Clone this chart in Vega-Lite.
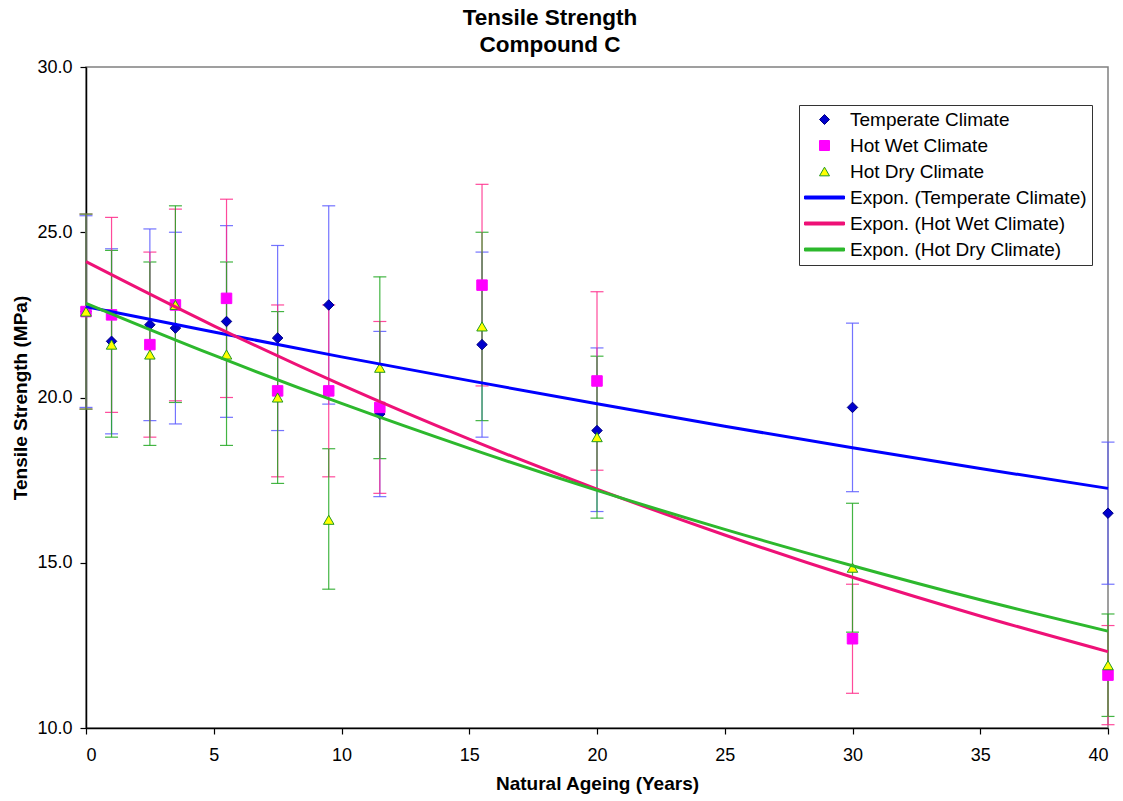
{
  "$schema": "https://vega.github.io/schema/vega-lite/v6.json",
  "width": 1022,
  "height": 661,
  "autosize": {"type": "none"},
  "padding": {"left": 86, "top": 67, "right": 15, "bottom": 73},
  "background": "#ffffff",
  "title": {
    "text": ["Tensile Strength", "Compound C"],
    "font": "Liberation Sans",
    "fontSize": 22.5,
    "fontWeight": "bold",
    "lineHeight": 27,
    "anchor": "middle",
    "dx": -47,
    "offset": 2,
    "color": "#000000"
  },
  "config": {
    "view": {"stroke": "#808080", "strokeWidth": 1.5},
    "axis": {
      "labelFont": "Liberation Sans",
      "titleFont": "Liberation Sans",
      "labelFontSize": 18,
      "titleFontSize": 19,
      "titleFontWeight": "bold",
      "labelColor": "#000000",
      "titleColor": "#000000",
      "domainColor": "#000000",
      "tickColor": "#000000",
      "domainWidth": 1.5,
      "tickWidth": 1.2,
      "tickSize": 6,
      "grid": false
    }
  },
  "datasets": {
    "pts": [
      {"x": 0, "series": "Temperate Climate", "y": 22.6, "lo": 19.7, "hi": 25.5},
      {"x": 1, "series": "Temperate Climate", "y": 21.7, "lo": 18.9, "hi": 24.5},
      {"x": 2.5, "series": "Temperate Climate", "y": 22.2, "lo": 19.3, "hi": 25.1},
      {"x": 3.5, "series": "Temperate Climate", "y": 22.1, "lo": 19.2, "hi": 25.0},
      {"x": 5.5, "series": "Temperate Climate", "y": 22.3, "lo": 19.4, "hi": 25.2},
      {"x": 7.5, "series": "Temperate Climate", "y": 21.8, "lo": 19.0, "hi": 24.6},
      {"x": 9.5, "series": "Temperate Climate", "y": 22.8, "lo": 19.8, "hi": 25.8},
      {"x": 11.5, "series": "Temperate Climate", "y": 19.5, "lo": 17.0, "hi": 22.0},
      {"x": 15.5, "series": "Temperate Climate", "y": 21.6, "lo": 18.8, "hi": 24.4},
      {"x": 20, "series": "Temperate Climate", "y": 19.0, "lo": 16.55, "hi": 21.5},
      {"x": 30, "series": "Temperate Climate", "y": 19.7, "lo": 17.15, "hi": 22.25},
      {"x": 40, "series": "Temperate Climate", "y": 16.5, "lo": 14.35, "hi": 18.65},
      {"x": 0, "series": "Hot Wet Climate", "y": 22.6, "lo": 19.65, "hi": 25.55},
      {"x": 1, "series": "Hot Wet Climate", "y": 22.5, "lo": 19.55, "hi": 25.45},
      {"x": 2.5, "series": "Hot Wet Climate", "y": 21.6, "lo": 18.8, "hi": 24.4},
      {"x": 3.5, "series": "Hot Wet Climate", "y": 22.8, "lo": 19.9, "hi": 25.7},
      {"x": 5.5, "series": "Hot Wet Climate", "y": 23.0, "lo": 20.0, "hi": 26.0},
      {"x": 7.5, "series": "Hot Wet Climate", "y": 20.2, "lo": 17.6, "hi": 22.8},
      {"x": 9.5, "series": "Hot Wet Climate", "y": 20.2, "lo": 17.6, "hi": 22.8},
      {"x": 11.5, "series": "Hot Wet Climate", "y": 19.7, "lo": 17.1, "hi": 22.3},
      {"x": 15.5, "series": "Hot Wet Climate", "y": 23.4, "lo": 20.35, "hi": 26.45},
      {"x": 20, "series": "Hot Wet Climate", "y": 20.5, "lo": 17.8, "hi": 23.2},
      {"x": 30, "series": "Hot Wet Climate", "y": 12.7, "lo": 11.05, "hi": 14.35},
      {"x": 40, "series": "Hot Wet Climate", "y": 11.6, "lo": 10.1, "hi": 13.1},
      {"x": 0, "series": "Hot Dry Climate", "y": 22.6, "lo": 19.65, "hi": 25.55},
      {"x": 1, "series": "Hot Dry Climate", "y": 21.6, "lo": 18.8, "hi": 24.45},
      {"x": 2.5, "series": "Hot Dry Climate", "y": 21.3, "lo": 18.55, "hi": 24.1},
      {"x": 3.5, "series": "Hot Dry Climate", "y": 22.8, "lo": 19.85, "hi": 25.8},
      {"x": 5.5, "series": "Hot Dry Climate", "y": 21.3, "lo": 18.55, "hi": 24.1},
      {"x": 7.5, "series": "Hot Dry Climate", "y": 20.0, "lo": 17.4, "hi": 22.6},
      {"x": 9.5, "series": "Hot Dry Climate", "y": 16.3, "lo": 14.2, "hi": 18.45},
      {"x": 11.5, "series": "Hot Dry Climate", "y": 20.9, "lo": 18.15, "hi": 23.65},
      {"x": 15.5, "series": "Hot Dry Climate", "y": 22.15, "lo": 19.3, "hi": 25.0},
      {"x": 20, "series": "Hot Dry Climate", "y": 18.8, "lo": 16.35, "hi": 21.25},
      {"x": 30, "series": "Hot Dry Climate", "y": 14.85, "lo": 12.9, "hi": 16.8},
      {"x": 40, "series": "Hot Dry Climate", "y": 11.9, "lo": 10.35, "hi": 13.45}
    ],
    "trend": [
      {"x": 0, "series": "Expon. (Temperate Climate)", "y": 22.75},
      {"x": 5, "series": "Expon. (Temperate Climate)", "y": 21.98},
      {"x": 10, "series": "Expon. (Temperate Climate)", "y": 21.23},
      {"x": 15, "series": "Expon. (Temperate Climate)", "y": 20.51},
      {"x": 20, "series": "Expon. (Temperate Climate)", "y": 19.81},
      {"x": 25, "series": "Expon. (Temperate Climate)", "y": 19.13},
      {"x": 30, "series": "Expon. (Temperate Climate)", "y": 18.48},
      {"x": 35, "series": "Expon. (Temperate Climate)", "y": 17.85},
      {"x": 40, "series": "Expon. (Temperate Climate)", "y": 17.25},
      {"x": 0, "series": "Expon. (Hot Wet Climate)", "y": 24.11},
      {"x": 5, "series": "Expon. (Hot Wet Climate)", "y": 22.17},
      {"x": 10, "series": "Expon. (Hot Wet Climate)", "y": 20.38},
      {"x": 15, "series": "Expon. (Hot Wet Climate)", "y": 18.74},
      {"x": 20, "series": "Expon. (Hot Wet Climate)", "y": 17.23},
      {"x": 25, "series": "Expon. (Hot Wet Climate)", "y": 15.84},
      {"x": 30, "series": "Expon. (Hot Wet Climate)", "y": 14.56},
      {"x": 35, "series": "Expon. (Hot Wet Climate)", "y": 13.39},
      {"x": 40, "series": "Expon. (Hot Wet Climate)", "y": 12.31},
      {"x": 0, "series": "Expon. (Hot Dry Climate)", "y": 22.85},
      {"x": 5, "series": "Expon. (Hot Dry Climate)", "y": 21.28},
      {"x": 10, "series": "Expon. (Hot Dry Climate)", "y": 19.82},
      {"x": 15, "series": "Expon. (Hot Dry Climate)", "y": 18.46},
      {"x": 20, "series": "Expon. (Hot Dry Climate)", "y": 17.19},
      {"x": 25, "series": "Expon. (Hot Dry Climate)", "y": 16.01},
      {"x": 30, "series": "Expon. (Hot Dry Climate)", "y": 14.91},
      {"x": 35, "series": "Expon. (Hot Dry Climate)", "y": 13.88},
      {"x": 40, "series": "Expon. (Hot Dry Climate)", "y": 12.93}
    ]
  },
  "encoding": {
    "x": {
      "field": "x",
      "type": "quantitative",
      "scale": {"domain": [0, 40], "nice": false, "zero": false},
      "axis": {
        "values": [0, 5, 10, 15, 20, 25, 30, 35, 40],
        "title": "Natural Ageing (Years)",
        "labelPadding": 12,
        "titlePadding": 10
      }
    }
  },
  "layer": [
    {
      "data": {"name": "pts"},
      "mark": {"type": "errorbar", "ticks": {"size": 13, "thickness": 1.2}, "thickness": 1.2, "opacity": 0.85},
      "encoding": {
        "y": {
          "field": "lo",
          "type": "quantitative",
          "scale": {"domain": [10, 30], "nice": false, "zero": false},
          "axis": {
            "values": [10, 15, 20, 25, 30],
            "format": ".1f",
            "title": "Tensile Strength (MPa)",
            "labelPadding": 8,
            "titlePadding": 6
          }
        },
        "y2": {"field": "hi"},
        "color": {
          "field": "series",
          "type": "nominal",
          "scale": {
            "domain": ["Temperate Climate", "Hot Wet Climate", "Hot Dry Climate"],
            "range": ["#5a5aff", "#ff2a8a", "#22a822"]
          },
          "legend": null
        }
      }
    },
    {
      "data": {"name": "pts"},
      "mark": {"type": "point", "filled": true, "size": 110, "strokeWidth": 1, "opacity": 1},
      "encoding": {
        "y": {"field": "y", "type": "quantitative"},
        "fill": {
          "field": "series",
          "type": "nominal",
          "scale": {
            "domain": ["Temperate Climate", "Hot Wet Climate", "Hot Dry Climate", "Expon. (Temperate Climate)", "Expon. (Hot Wet Climate)", "Expon. (Hot Dry Climate)"],
            "range": ["#0000cc", "#ff00ff", "#ffff00", "#0000ff", "#ee1177", "#2db82d"]
          },
          "legend": {
            "title": null,
            "orient": "none",
            "legendX": 713,
            "legendY": 38,
            "padding": 5,
            "strokeColor": "#333333",
            "fillColor": "#ffffff",
            "labelFont": "Liberation Sans",
            "labelFontSize": 19,
            "labelColor": "#000000",
            "labelOffset": 16,
            "symbolOffset": 11,
            "symbolSize": 100,
            "symbolStrokeWidth": 1,
            "rowPadding": 6,
            "labelLimit": 400
          }
        },
        "stroke": {
          "field": "series",
          "type": "nominal",
          "scale": {
            "domain": ["Temperate Climate", "Hot Wet Climate", "Hot Dry Climate", "Expon. (Temperate Climate)", "Expon. (Hot Wet Climate)", "Expon. (Hot Dry Climate)"],
            "range": ["#000080", "#ff00ff", "#229922", "#0000ff", "#ee1177", "#2db82d"]
          },
          "legend": {
            "title": null,
            "orient": "none",
            "legendX": 713,
            "legendY": 38,
            "padding": 5,
            "strokeColor": "#333333",
            "fillColor": "#ffffff",
            "labelFont": "Liberation Sans",
            "labelFontSize": 19,
            "labelColor": "#000000",
            "labelOffset": 16,
            "symbolOffset": 11,
            "symbolSize": 100,
            "symbolStrokeWidth": 1,
            "rowPadding": 6,
            "labelLimit": 400
          }
        },
        "shape": {
          "field": "series",
          "type": "nominal",
          "scale": {
            "domain": ["Temperate Climate", "Hot Wet Climate", "Hot Dry Climate", "Expon. (Temperate Climate)", "Expon. (Hot Wet Climate)", "Expon. (Hot Dry Climate)"],
            "range": ["diamond", "square", "triangle-up", "M-4,-0.3H4V0.3H-4Z", "M-4,-0.3H4V0.3H-4Z", "M-4,-0.3H4V0.3H-4Z"]
          },
          "legend": {
            "title": null,
            "orient": "none",
            "legendX": 713,
            "legendY": 38,
            "padding": 5,
            "strokeColor": "#333333",
            "fillColor": "#ffffff",
            "labelFont": "Liberation Sans",
            "labelFontSize": 19,
            "labelColor": "#000000",
            "labelOffset": 16,
            "symbolOffset": 11,
            "symbolSize": 100,
            "symbolStrokeWidth": 1,
            "rowPadding": 6,
            "labelLimit": 400
          }
        }
      }
    },
    {
      "data": {"name": "trend"},
      "mark": {"type": "line", "strokeWidth": 3, "interpolate": "monotone"},
      "encoding": {
        "y": {"field": "y", "type": "quantitative"},
        "stroke": {"field": "series", "type": "nominal", "legend": null}
      }
    }
  ]
}
